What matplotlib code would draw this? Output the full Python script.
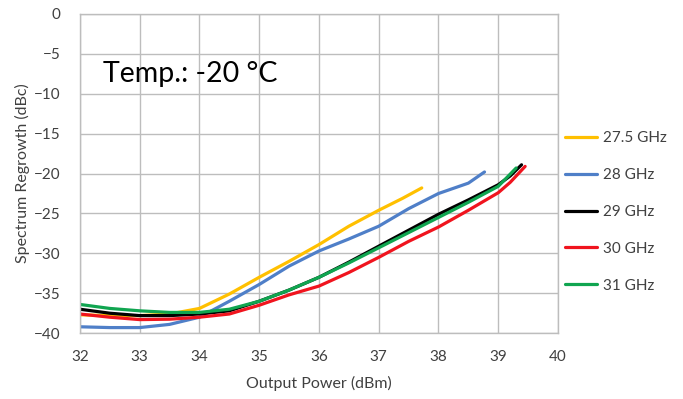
import matplotlib
matplotlib.use("Agg")
import matplotlib.pyplot as plt
import numpy as np

plt.rcParams['font.family'] = ['Lato', 'DejaVu Sans']

labels = ["27.5 GHz", "28 GHz", "29 GHz", "30 GHz", "31 GHz"]
colors = ["#FFC000", "#4F7FC8", "#000000", "#F0141E", "#10A550"]

x_275 = [32.0, 32.5, 33.0, 33.5, 34.0, 34.5, 35.0, 35.5, 36.0, 36.5, 37.0, 37.4, 37.72]
y_275 = [-37.7, -37.8, -37.8, -37.6, -36.9, -35.1, -33.0, -31.0, -28.9, -26.6, -24.6, -23.1, -21.8]

x_28 = [32.0, 32.5, 33.0, 33.5, 34.0, 34.5, 35.0, 35.5, 36.0, 36.5, 37.0, 37.5, 38.0, 38.5, 38.77]
y_28 = [-39.2, -39.3, -39.3, -38.9, -38.0, -36.0, -33.9, -31.6, -29.7, -28.2, -26.6, -24.4, -22.5, -21.2, -19.8]

x_29 = [32.0, 32.5, 33.0, 33.5, 34.0, 34.5, 35.0, 35.5, 36.0, 36.5, 37.0, 37.5, 38.0, 38.5, 39.0, 39.2, 39.39]
y_29 = [-37.0, -37.5, -37.8, -37.8, -37.6, -37.2, -36.0, -34.6, -33.0, -31.1, -29.1, -27.1, -25.1, -23.3, -21.4, -20.3, -18.9]

x_30 = [32.0, 32.5, 33.0, 33.5, 34.0, 34.5, 35.0, 35.5, 36.0, 36.5, 37.0, 37.5, 38.0, 38.5, 39.0, 39.2, 39.45]
y_30 = [-37.6, -38.0, -38.3, -38.25, -38.0, -37.6, -36.5, -35.2, -34.1, -32.4, -30.5, -28.5, -26.7, -24.6, -22.4, -21.1, -19.1]

x_31 = [32.0, 32.5, 33.0, 33.5, 34.0, 34.5, 35.0, 35.5, 36.0, 36.5, 37.0, 37.5, 38.0, 38.5, 39.0, 39.3]
y_31 = [-36.4, -36.9, -37.2, -37.4, -37.4, -37.0, -36.0, -34.6, -33.0, -31.2, -29.3, -27.4, -25.5, -23.6, -21.6, -19.3]

series = [(x_275, y_275), (x_28, y_28), (x_29, y_29), (x_30, y_30), (x_31, y_31)]

fig = plt.figure(figsize=(6.83, 3.99), dpi=100)
ax = fig.add_axes([0.117, 0.165, 0.700, 0.800])

for (xs, ys), lab, c in zip(series, labels, colors):
    ax.plot(xs, ys, color=c, lw=2.3, label=lab, solid_capstyle='round', solid_joinstyle='round')

ax.set_xlim(32, 40)
ax.set_ylim(-40, 0)
ax.set_xticks(np.arange(32, 41, 1))
ax.set_yticks(np.arange(-40, 1, 5))
ax.grid(True, color="#BDBDBD", lw=1.0)
ax.set_axisbelow(True)
for s in ax.spines.values():
    s.set_color("#BDBDBD")
    s.set_linewidth(1.0)
ax.tick_params(axis='x', length=0, labelsize=11, colors="#404040", pad=12)
ax.tick_params(axis='y', length=0, labelsize=11, colors="#404040", pad=14)
ax.set_xlabel("Output Power (dBm)", fontsize=11.5, color="#404040", labelpad=9)
ax.set_ylabel("Spectrum Regrowth (dBc)", fontsize=11.5, color="#404040", labelpad=3)

ax.text(32.38, -8.5, "Temp.: -20 °C", fontsize=20.5, color="black", ha="left", va="baseline")

leg = ax.legend(loc="center left", bbox_to_anchor=(1.0, 0.38), frameon=False,
                fontsize=11, handlelength=2.1, handletextpad=0.4, labelspacing=1.5,
                borderaxespad=0.05)
for t in leg.get_texts():
    t.set_color("#404040")

fig.savefig("out.png", dpi=100)
